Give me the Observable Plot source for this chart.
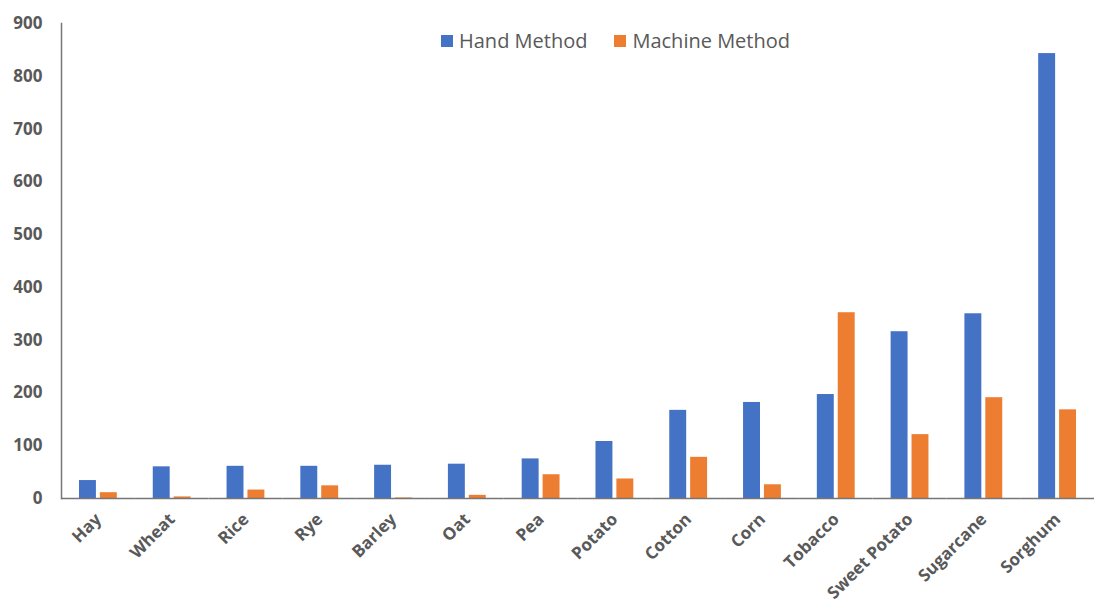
<!DOCTYPE html>
<html>
<head>
<meta charset="utf-8">
<script src="https://cdn.jsdelivr.net/npm/d3@7"></script>
<script src="https://cdn.jsdelivr.net/npm/@observablehq/plot@0.6"></script>
<style>
  html, body { margin: 0; padding: 0; background: #fff; }
  #wrap { position: relative; width: 1094px; height: 603px; font-family: "Open Sans", sans-serif; }
  #legend { position: absolute; top: 27px; left: 441px; display: flex; gap: 27px; font-size: 20px; color: #595959; white-space: nowrap; }
  #legend .item { display: flex; align-items: center; }
  #legend .swatch { width: 12px; height: 12px; margin-right: 6px; }
</style>
</head>
<body>
<div id="wrap">
  <div id="chart"></div>
  <div id="legend"></div>
</div>
<script>
// Crops, in display order
const categories = ["Hay", "Wheat", "Rice", "Rye", "Barley", "Oat", "Pea", "Potato", "Cotton", "Corn", "Tobacco", "Sweet Potato", "Sugarcane", "Sorghum"];
// Series values
const handMethod = [34, 60, 61, 61, 63, 65, 75, 108, 167, 182, 197, 316, 350, 843];
const machineMethod = [11, 3, 16, 24, 1, 6, 45, 37, 78, 26, 352, 121, 191, 168];
const seriesNames = ["Hand Method", "Machine Method"];
const seriesColors = ["#4472C4", "#ED7D31"];
const yTicks = [0, 100, 200, 300, 400, 500, 600, 700, 800, 900];

const rows = categories.flatMap((crop, i) => [
  {crop, method: seriesNames[0], value: handMethod[i]},
  {crop, method: seriesNames[1], value: machineMethod[i]}
]);

const chart = Plot.plot({
  width: 1094,
  height: 603,
  marginLeft: 61,
  marginRight: 0,
  marginTop: 23,
  marginBottom: 105,
  style: {fontFamily: "Open Sans, sans-serif", fontSize: "17px", fontWeight: "700", color: "#595959", background: "#fff"},
  fx: {domain: categories, padding: 0, round: false, axis: "bottom", label: null, tickRotate: -45, tickSize: 0, tickPadding: 18},
  x: {domain: seriesNames, axis: null, paddingInner: 0.19, paddingOuter: 0.86, round: false},
  y: {domain: [0, 900], ticks: yTicks, label: null, tickSize: 0, tickPadding: 19},
  color: {domain: seriesNames, range: seriesColors},
  marks: [
    Plot.barY(rows, {fx: "crop", x: "method", y: "value", fill: "method"}),
    Plot.frame({anchor: "left", facetAnchor: "left", stroke: "#767676", strokeWidth: 1.5}),
    Plot.ruleY([0], {stroke: "#767676", strokeWidth: 1.5})
  ]
});
document.getElementById("chart").append(chart);

// Legend
const legend = document.getElementById("legend");
seriesNames.forEach((name, i) => {
  const item = document.createElement("div");
  item.className = "item";
  const sw = document.createElement("span");
  sw.className = "swatch";
  sw.style.background = seriesColors[i];
  const label = document.createElement("span");
  label.textContent = name;
  item.append(sw, label);
  legend.append(item);
});
</script>
</body>
</html>
